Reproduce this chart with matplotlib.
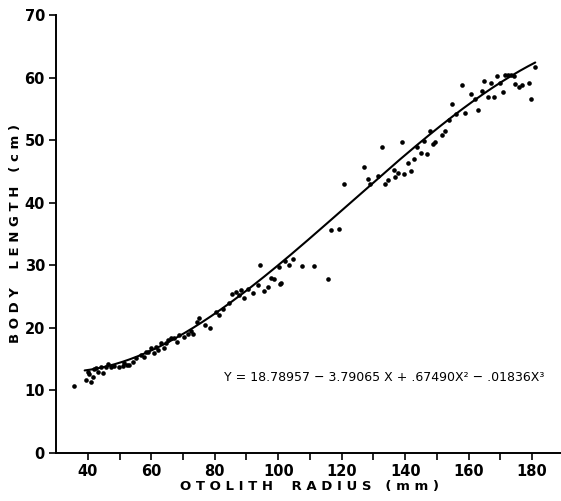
import numpy as np
import matplotlib
matplotlib.use("Agg")
import matplotlib.pyplot as plt

# Scatter observations: otolith radius (mm) and body length (cm)
radius = [35.6, 39.4, 40.0, 41.0, 41.6, 41.9, 43.2, 44.1, 44.7, 45.7, 47.3, 48.2,
          49.8, 51.0, 51.4, 53.0, 54.2, 55.2, 56.7, 57.7, 59.0, 59.9, 60.9, 62.1,
          63.1, 64.0, 64.6, 65.3, 66.2, 68.1, 68.8, 70.3, 72.5, 73.2, 74.4, 75.1,
          78.5, 80.4, 81.4, 84.5, 85.5, 86.8, 88.3, 89.3, 92.1, 93.7, 94.3, 95.6,
          96.9, 98.8, 100.3, 100.7, 101.0, 103.5, 104.8, 107.6, 111.4, 115.8, 116.5,
          119.0, 120.6, 126.9, 128.2, 128.8, 131.6, 132.6, 133.5, 134.5, 136.4,
          136.7, 137.6, 139.0, 139.5, 140.8, 141.7, 142.7, 143.6, 144.9, 145.8,
          146.8, 147.7, 148.7, 149.3, 151.5, 152.5, 153.7, 154.7, 156.0, 157.9,
          158.8, 160.7, 161.9, 162.9, 164.2, 164.8, 166.1, 167.0, 168.0, 168.9,
          169.9, 170.8, 171.4, 172.4, 173.3, 174.3, 174.6, 175.9, 176.8, 179.0,
          179.6, 180.9,
          40.5, 42.5, 46.5, 52.2, 58.3, 61.5, 67.0, 71.5, 77.0, 82.5, 87.5, 90.5,
          97.8, 102.2]
length = [10.7, 11.7, 13.0, 11.3, 12.1, 13.4, 12.9, 13.7, 12.8, 13.7, 13.7, 13.9,
          13.7, 13.9, 14.4, 14.1, 14.5, 15.2, 15.7, 15.3, 16.1, 16.8, 16.0, 16.5,
          17.6, 16.8, 17.6, 18.0, 18.4, 17.7, 18.8, 18.5, 19.5, 19.0, 20.9, 21.6,
          20.0, 22.5, 22.0, 24.0, 25.4, 25.7, 26.0, 24.8, 25.6, 26.8, 30.0, 25.9,
          26.5, 27.8, 29.7, 27.0, 27.2, 30.0, 31.0, 29.9, 29.9, 27.8, 35.6,
          35.8, 43.0, 45.7, 43.8, 43.0, 44.2, 48.9, 43.0, 43.6, 45.2,
          44.1, 44.7, 49.7, 44.6, 46.3, 45.0, 47.0, 48.9, 47.9, 49.8,
          47.8, 51.4, 49.4, 49.7, 50.8, 51.4, 53.2, 55.7, 54.2, 58.8,
          54.3, 57.3, 56.5, 54.8, 57.8, 59.4, 56.9, 59.1, 56.9, 60.2,
          59.1, 57.7, 60.4, 60.4, 60.4, 60.2, 58.9, 58.5, 58.8, 59.1,
          56.5, 61.7,
          12.6, 13.5, 14.2, 14.0, 16.2, 17.0, 18.3, 19.0, 20.5, 23.0, 25.2, 26.2,
          28.0, 30.6]

# Fitted cubic printed on the chart (X = radius / 10)
coef_const = 18.78957
coef_x1 = -3.79065
coef_x2 = 0.67490
coef_x3 = -0.01836
curve_start, curve_end = 39.0, 181.0

x_ticks = [40, 50, 60, 70, 80, 90, 100, 110, 120, 130, 140, 150, 160, 170, 180]
x_ticklabels = ["40", "", "60", "", "80", "", "100", "", "120", "", "140", "", "160", "", "180"]
y_ticks = [0, 10, 20, 30, 40, 50, 60, 70]

fig = plt.figure(figsize=(5.61, 5.01), dpi=100)
ax = fig.add_axes([0.1, 0.096, 0.905, 0.874])

xs = np.linspace(curve_start, curve_end, 300)
X = xs / 10.0
ys = np.polyval([coef_x3, coef_x2, coef_x1, coef_const], X)
ax.plot(xs, ys, color="black", lw=1.5, solid_capstyle="round")
ax.scatter(radius, length, s=11, color="black", zorder=3, linewidths=0)

ax.set_xlim(30, 190)
ax.set_ylim(0, 70)
ax.set_xticks(x_ticks)
ax.set_xticklabels(x_ticklabels)
ax.set_yticks(y_ticks)
for s in ["top", "right"]:
    ax.spines[s].set_visible(False)
for s in ["left", "bottom"]:
    ax.spines[s].set_linewidth(1.4)
ax.tick_params(direction="out", length=5, width=1.2, labelsize=10.5, pad=3)
for lab in ax.get_xticklabels() + ax.get_yticklabels():
    lab.set_fontweight("bold")

ax.set_xlabel("O T O L I T H    R A D I U S   ( m m )", fontsize=9.5, fontweight="bold", labelpad=1)
ax.set_ylabel("B O D Y    L E N G T H   ( c m )", fontsize=9.5, fontweight="bold", labelpad=2)

ax.text(83, 12, "Y = 18.78957 − 3.79065 X + .67490X² − .01836X³",
        fontsize=9, va="center", ha="left")

fig.savefig("out.png", dpi=100)
